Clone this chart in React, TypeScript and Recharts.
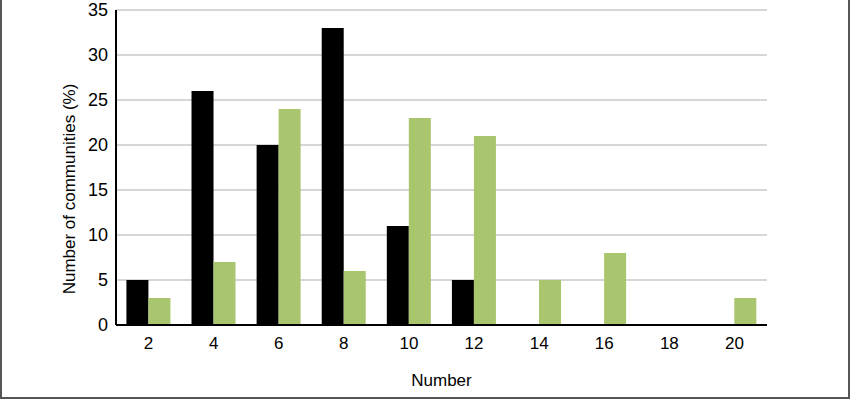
import React from "react";
import {
  BarChart,
  Bar,
  XAxis,
  YAxis,
  CartesianGrid,
  Label,
} from "recharts";

const numbers = ["2", "4", "6", "8", "10", "12", "14", "16", "18", "20"];
const blackSeries = [5, 26, 20, 33, 11, 5, 0, 0, 0, 0];
const greenSeries = [3, 7, 24, 6, 23, 21, 5, 8, 0, 3];
const yTicks = [0, 5, 10, 15, 20, 25, 30, 35];

const data = numbers.map((n, i) => ({
  number: n,
  black: blackSeries[i],
  green: greenSeries[i],
}));

const FONT = "'Liberation Sans', Arial, sans-serif";

const YLabel = () => {
  const cx = 69;
  const cy = 189;
  return (
    <text
      x={cx}
      y={cy}
      transform={`rotate(-90, ${cx}, ${cy})`}
      textAnchor="middle"
      dominantBaseline="central"
      fontSize={17}
      fontFamily={FONT}
      fill="#000"
    >
      Number of communities (%)
    </text>
  );
};

export default function App() {
  return (
    <div
      style={{
        position: "absolute",
        left: 0,
        top: 0,
        width: 850,
        height: 399,
        boxSizing: "border-box",
        borderLeft: "2px solid #555",
        borderRight: "2px solid #555",
        borderBottom: "2px solid #555",
        background: "#fff",
      }}
    >
      <div style={{ position: "absolute", left: -2, top: 0 }}>
        <BarChart
          width={850}
          height={399}
          data={data}
          margin={{ top: 10, right: 83, bottom: 13, left: 0 }}
          barCategoryGap="16%"
          barGap={0}
        >
          <CartesianGrid vertical={false} stroke="#c8c8c8" strokeWidth={1.5} />
          <XAxis
            dataKey="number"
            height={61}
            tickLine={false}
            axisLine={{ stroke: "#000", strokeWidth: 2 }}
            tickMargin={6}
            tick={{ fill: "#000", fontSize: 17, fontFamily: FONT }}
          >
            <Label
              value="Number"
              position="insideBottom"
              offset={0}
              style={{ fill: "#000", fontSize: 17, fontFamily: FONT }}
            />
          </XAxis>
          <YAxis
            width={116}
            domain={[0, 35]}
            ticks={yTicks}
            interval={0}
            tickLine={false}
            axisLine={{ stroke: "#000", strokeWidth: 2 }}
            tick={{ fill: "#000", fontSize: 18, fontFamily: FONT }}
            label={<YLabel />}
          />
          <Bar dataKey="black" fill="#000000" isAnimationActive={false} />
          <Bar dataKey="green" fill="#a9c56d" isAnimationActive={false} />
        </BarChart>
      </div>
    </div>
  );
}
